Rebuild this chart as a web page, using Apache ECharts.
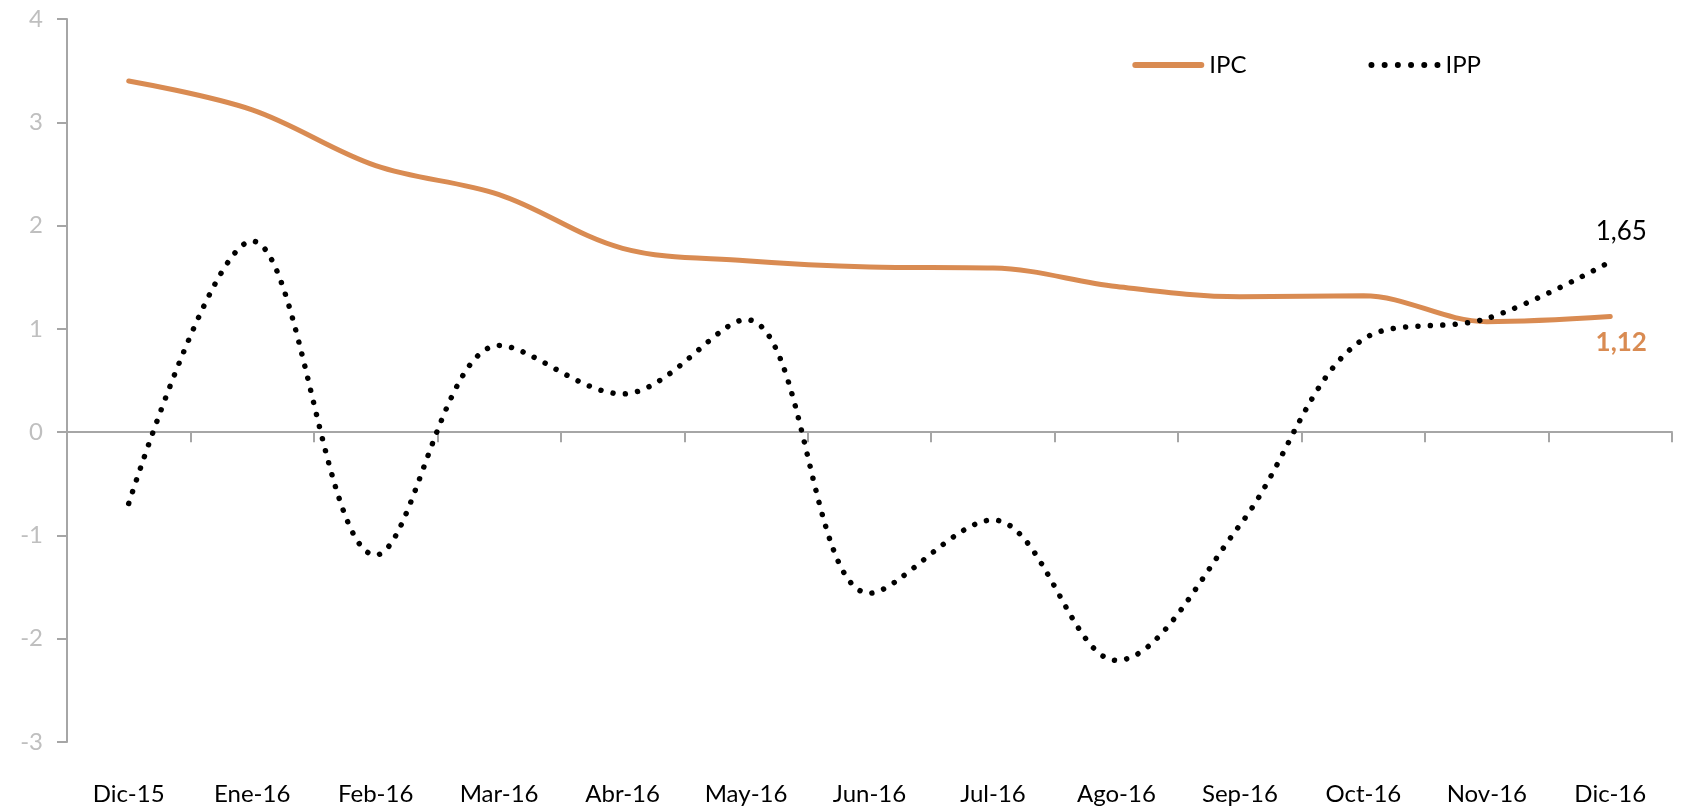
<!DOCTYPE html>
<html>
<head>
<meta charset="utf-8">
<script src="https://cdn.jsdelivr.net/npm/echarts@6/dist/echarts.min.js"></script>
<style>
  html, body { margin: 0; padding: 0; background: #ffffff; }
  #chart { width: 1684px; height: 812px; }
</style>
</head>
<body>
<div id="chart"></div>
<script>
// Months, Dec 2015 – Dec 2016
const months = ['Dic-15', 'Ene-16', 'Feb-16', 'Mar-16', 'Abr-16', 'May-16', 'Jun-16',
                'Jul-16', 'Ago-16', 'Sep-16', 'Oct-16', 'Nov-16', 'Dic-16'];
// Consumer price index, annual variation (%)
const ipc = [3.40, 3.12, 2.58, 2.30, 1.78, 1.66, 1.60, 1.59, 1.41, 1.31, 1.32, 1.07, 1.12];
// Producer price index, annual variation (%)
const ipp = [-0.69, 1.85, -1.19, 0.84, 0.37, 1.09, -1.56, -0.85, -2.21, -0.90, 0.90, 1.10, 1.65];
// Y axis range
const yMin = -3, yMax = 4, yStep = 1;

const fmt = v => Number(v).toFixed(2).replace('.', ',');
const FONT = 'Lato, "Open Sans", sans-serif';
const ORANGE = '#D98B52';

// Legend glyph for the dotted series: six round dots in a 72x6 box
const DOTS_ICON = 'path://' + [3, 16.2, 29.4, 42.6, 55.8, 69]
  .map(cx => `M${cx - 3},3a3,3 0 1,0 6,0a3,3 0 1,0 -6,0Z`).join('');

const chart = echarts.init(document.getElementById('chart'), null, { renderer: 'canvas' });
chart.setOption({
  animation: false,
  backgroundColor: '#ffffff',
  grid: { left: 67, right: 12, top: 19, bottom: 70, containLabel: false },
  legend: {
    right: 198,
    top: 48,
    itemWidth: 72,
    itemHeight: 6,
    itemGap: 122,
    textStyle: { fontFamily: FONT, fontSize: 24, color: '#000' },
    data: [
      { name: 'IPC', icon: 'path://M3,0h66a3,3 0 0,1 0,6h-66a3,3 0 0,1 0,-6Z', itemStyle: { color: ORANGE, borderWidth: 0 } },
      { name: 'IPP', icon: DOTS_ICON, itemStyle: { color: '#000', borderWidth: 0 } }
    ]
  },
  xAxis: [
    {
      type: 'category',
      data: months,
      position: 'bottom',
      boundaryGap: true,
      axisLine: { show: false, onZero: false },
      axisTick: { show: false },
      axisLabel: { fontFamily: FONT, fontSize: 24, color: '#000', margin: 40 }
    },
    {
      type: 'category',
      data: months,
      position: 'bottom',
      boundaryGap: true,
      axisLine: { show: true, onZero: true, lineStyle: { color: '#a6a6a6', width: 2 } },
      axisTick: { show: true, length: 10, inside: false, lineStyle: { color: '#a6a6a6', width: 2 } },
      axisLabel: { show: false }
    }
  ],
  yAxis: {
    type: 'value',
    min: yMin,
    max: yMax,
    interval: yStep,
    axisLine: { show: true, lineStyle: { color: '#a6a6a6', width: 2 } },
    axisTick: { show: true, length: 10, lineStyle: { color: '#a6a6a6', width: 2 } },
    splitLine: { show: false },
    axisLabel: { fontFamily: FONT, fontSize: 24, color: '#bfbfbf', margin: 24 }
  },
  series: [
    {
      name: 'IPC',
      type: 'line',
      xAxisIndex: 0,
      smooth: 0.35,
      symbol: 'none',
      color: ORANGE,
      lineStyle: { color: ORANGE, width: 5, cap: 'round' },
      data: ipc,
      endLabel: {
        show: true,
        formatter: p => fmt(p.value),
        distance: 0,
        offset: [11, 26],
        align: 'center',
        verticalAlign: 'middle',
        fontFamily: FONT, fontSize: 26, fontWeight: 'bold', color: ORANGE
      },
      z: 3
    },
    {
      name: 'IPP',
      type: 'line',
      xAxisIndex: 0,
      smooth: 0.35,
      symbol: 'none',
      color: '#000',
      lineStyle: { color: '#000', width: 5.5, type: [0.01, 12.4], cap: 'round' },
      data: ipp,
      endLabel: {
        show: true,
        formatter: p => fmt(p.value),
        distance: 0,
        offset: [11, -30],
        align: 'center',
        verticalAlign: 'middle',
        fontFamily: FONT, fontSize: 26, color: '#000'
      },
      z: 4
    }
  ]
});
</script>
</body>
</html>
